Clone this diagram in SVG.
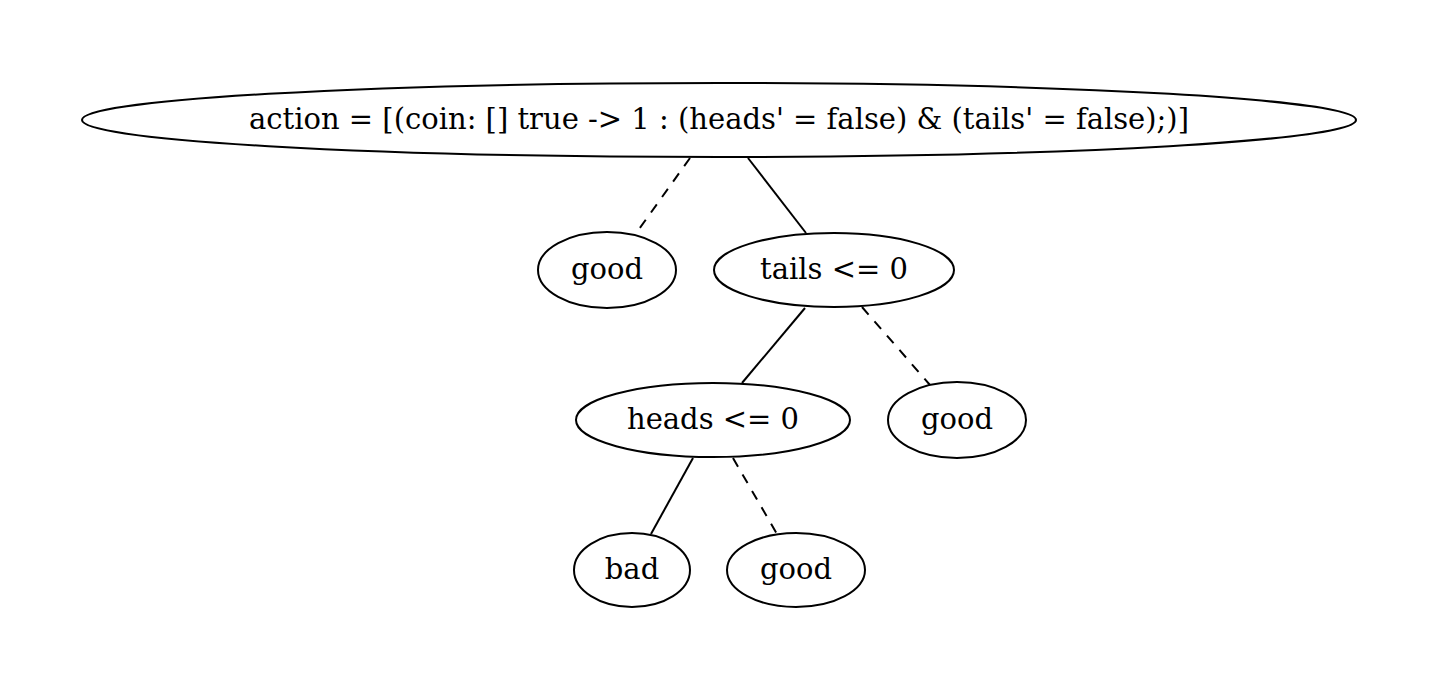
<svg xmlns="http://www.w3.org/2000/svg" width="1440" height="692" viewBox="0 0 1440 692">
<style>
.n ellipse{fill:none;stroke:#000;stroke-width:2}
.n text{font-family:"DejaVu Serif",serif;font-size:29px;text-anchor:middle;fill:#000}
.e line{stroke:#000;stroke-width:2}
.e .d{stroke-dasharray:10,9}
</style>
<rect width="1440" height="692" fill="#fff"/>
<g class="e">
<line class="d" x1="690" y1="158" x2="637" y2="232"/>
<line x1="748" y1="158" x2="806" y2="233"/>
<line x1="805" y1="308" x2="742" y2="383"/>
<line class="d" x1="862" y1="307" x2="930" y2="385"/>
<line x1="693" y1="458" x2="651" y2="534"/>
<line class="d" x1="733" y1="458" x2="777" y2="534"/>
</g>
<g id="root" class="n"><ellipse cx="719" cy="120" rx="637" ry="37"/><text x="719" y="129">action = [(coin: [] true -&gt; 1 : (heads' = false) &amp; (tails' = false);)]</text></g>
<g id="good1" class="n"><ellipse cx="607" cy="270" rx="69" ry="38"/><text x="607" y="279">good</text></g>
<g id="tails" class="n"><ellipse cx="834" cy="270" rx="120" ry="37"/><text x="834" y="279">tails &lt;= 0</text></g>
<g id="heads" class="n"><ellipse cx="713" cy="420" rx="137" ry="37"/><text x="713" y="429">heads &lt;= 0</text></g>
<g id="good2" class="n"><ellipse cx="957" cy="420" rx="69" ry="38"/><text x="957" y="429">good</text></g>
<g id="bad" class="n"><ellipse cx="632" cy="570" rx="58" ry="37"/><text x="632" y="579">bad</text></g>
<g id="good3" class="n"><ellipse cx="796" cy="570" rx="69" ry="37"/><text x="796" y="579">good</text></g>
</svg>
